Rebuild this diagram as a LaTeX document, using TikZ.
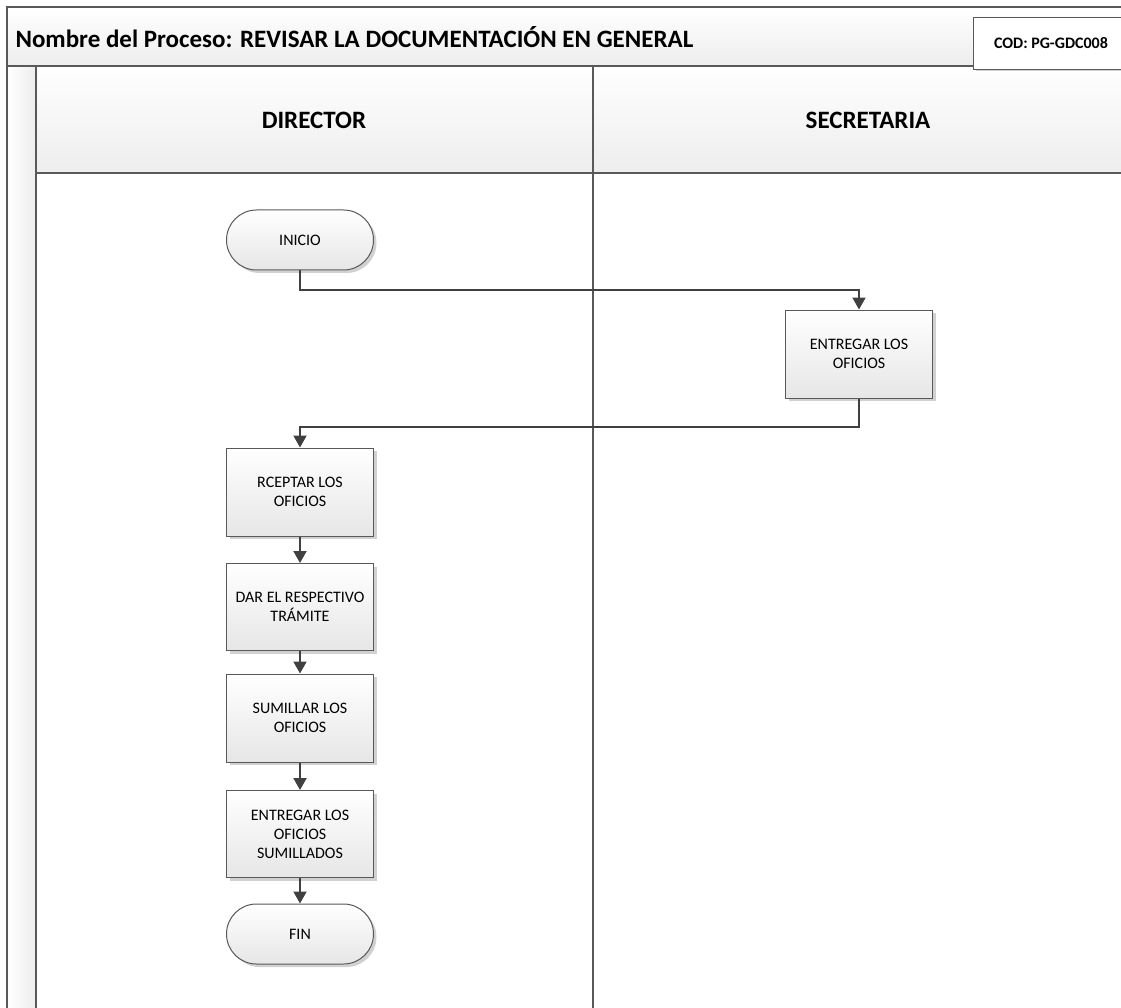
\documentclass[tikz,border=0pt]{standalone}
\usepackage{fontspec}
\setmainfont{Carlito}
\usetikzlibrary{arrows.meta,shadows}
\definecolor{lnline}{HTML}{595959}
\definecolor{lnflow}{HTML}{404040}
\definecolor{lnhead}{HTML}{EDEDED}
\definecolor{lnbox}{HTML}{E6E6E6}

\begin{document}
\begin{tikzpicture}[x=1pt, y=-1pt, font=\fontsize{16}{19}\selectfont,
  paso/.style={draw=lnline, line width=1pt, top color=white, bottom color=lnbox,
    minimum width=147pt, minimum height=88pt, align=center, inner sep=2pt,
    drop shadow={shadow xshift=3pt, shadow yshift=-3pt, fill=black!18, opacity=1}},
  limite/.style={paso, minimum height=60pt, rounded corners=30pt},
  flujo/.style={draw=lnflow, line width=2pt, -{Triangle[length=12pt, width=13pt]}}]
  \useasboundingbox (0,0) rectangle (1121,1008);
  % bandas de fondo
  \shade[top color=white, bottom color=lnhead] (7,7) rectangle (1121,66);
  \shade[top color=white, bottom color=lnhead] (36,66) rectangle (1121,173);
  \shade[left color=white, right color=lnhead] (7,66) rectangle (36,1008);
  % rejilla de carriles
  \draw[lnline, line width=1.2pt] (7,66) -- (1121,66);
  \draw[lnline, line width=1.2pt] (36,173) -- (1121,173);
  \draw[lnline, line width=1.6pt] (36,66) -- (36,1008);
  \draw[lnline, line width=1.2pt] (593,66) -- (593,1008);
  \draw[lnline, line width=2pt] (7,1008) -- (7,7) -- (1121,7);
  % cabecera
  \node[anchor=west, font=\fontsize{25}{30}\selectfont\bfseries] (titulo) at (12,37)
    {Nombre del Proceso: REVISAR LA DOCUMENTACIÓN EN GENERAL};
  \node[draw=lnline, line width=1pt, fill=white, anchor=north west, minimum width=155pt,
    minimum height=52pt, font=\fontsize{16}{19}\selectfont\bfseries,
    drop shadow={shadow xshift=2pt, shadow yshift=-2pt, fill=black!18, opacity=1}] (codigo) at (973,17)
    {COD: PG-GDC008};
  \node[font=\fontsize{25}{30}\selectfont\bfseries] (director) at (314,120) {DIRECTOR};
  \node[font=\fontsize{25}{30}\selectfont\bfseries] (secretaria) at (868,120) {SECRETARIA};
  % pasos del proceso
  \node[limite] (inicio) at (300,240) {INICIO};
  \node[paso] (entrega) at (859,354) {ENTREGAR LOS\\OFICIOS};
  \node[paso] (recepta) at (300,492) {RCEPTAR LOS\\OFICIOS};
  \node[paso, minimum height=87pt] (tramite) at (300,607) {DAR EL RESPECTIVO\\TRÁMITE};
  \node[paso] (sumilla) at (300,718) {SUMILLAR LOS\\OFICIOS};
  \node[paso, minimum height=87pt] (entregasum) at (300,834) {ENTREGAR LOS\\OFICIOS\\SUMILLADOS};
  \node[limite] (fin) at (300,934) {FIN};
  % conectores
  \draw[flujo] (inicio.south) -- ++(0,19) -| (entrega.north);
  \draw[flujo] (entrega.south) -- ++(0,28) -| (recepta.north);
  \draw[flujo] (recepta) -- (tramite);
  \draw[flujo] (tramite) -- (sumilla);
  \draw[flujo] (sumilla) -- (entregasum);
  \draw[flujo] (entregasum) -- (fin);
\end{tikzpicture}
\end{document}
